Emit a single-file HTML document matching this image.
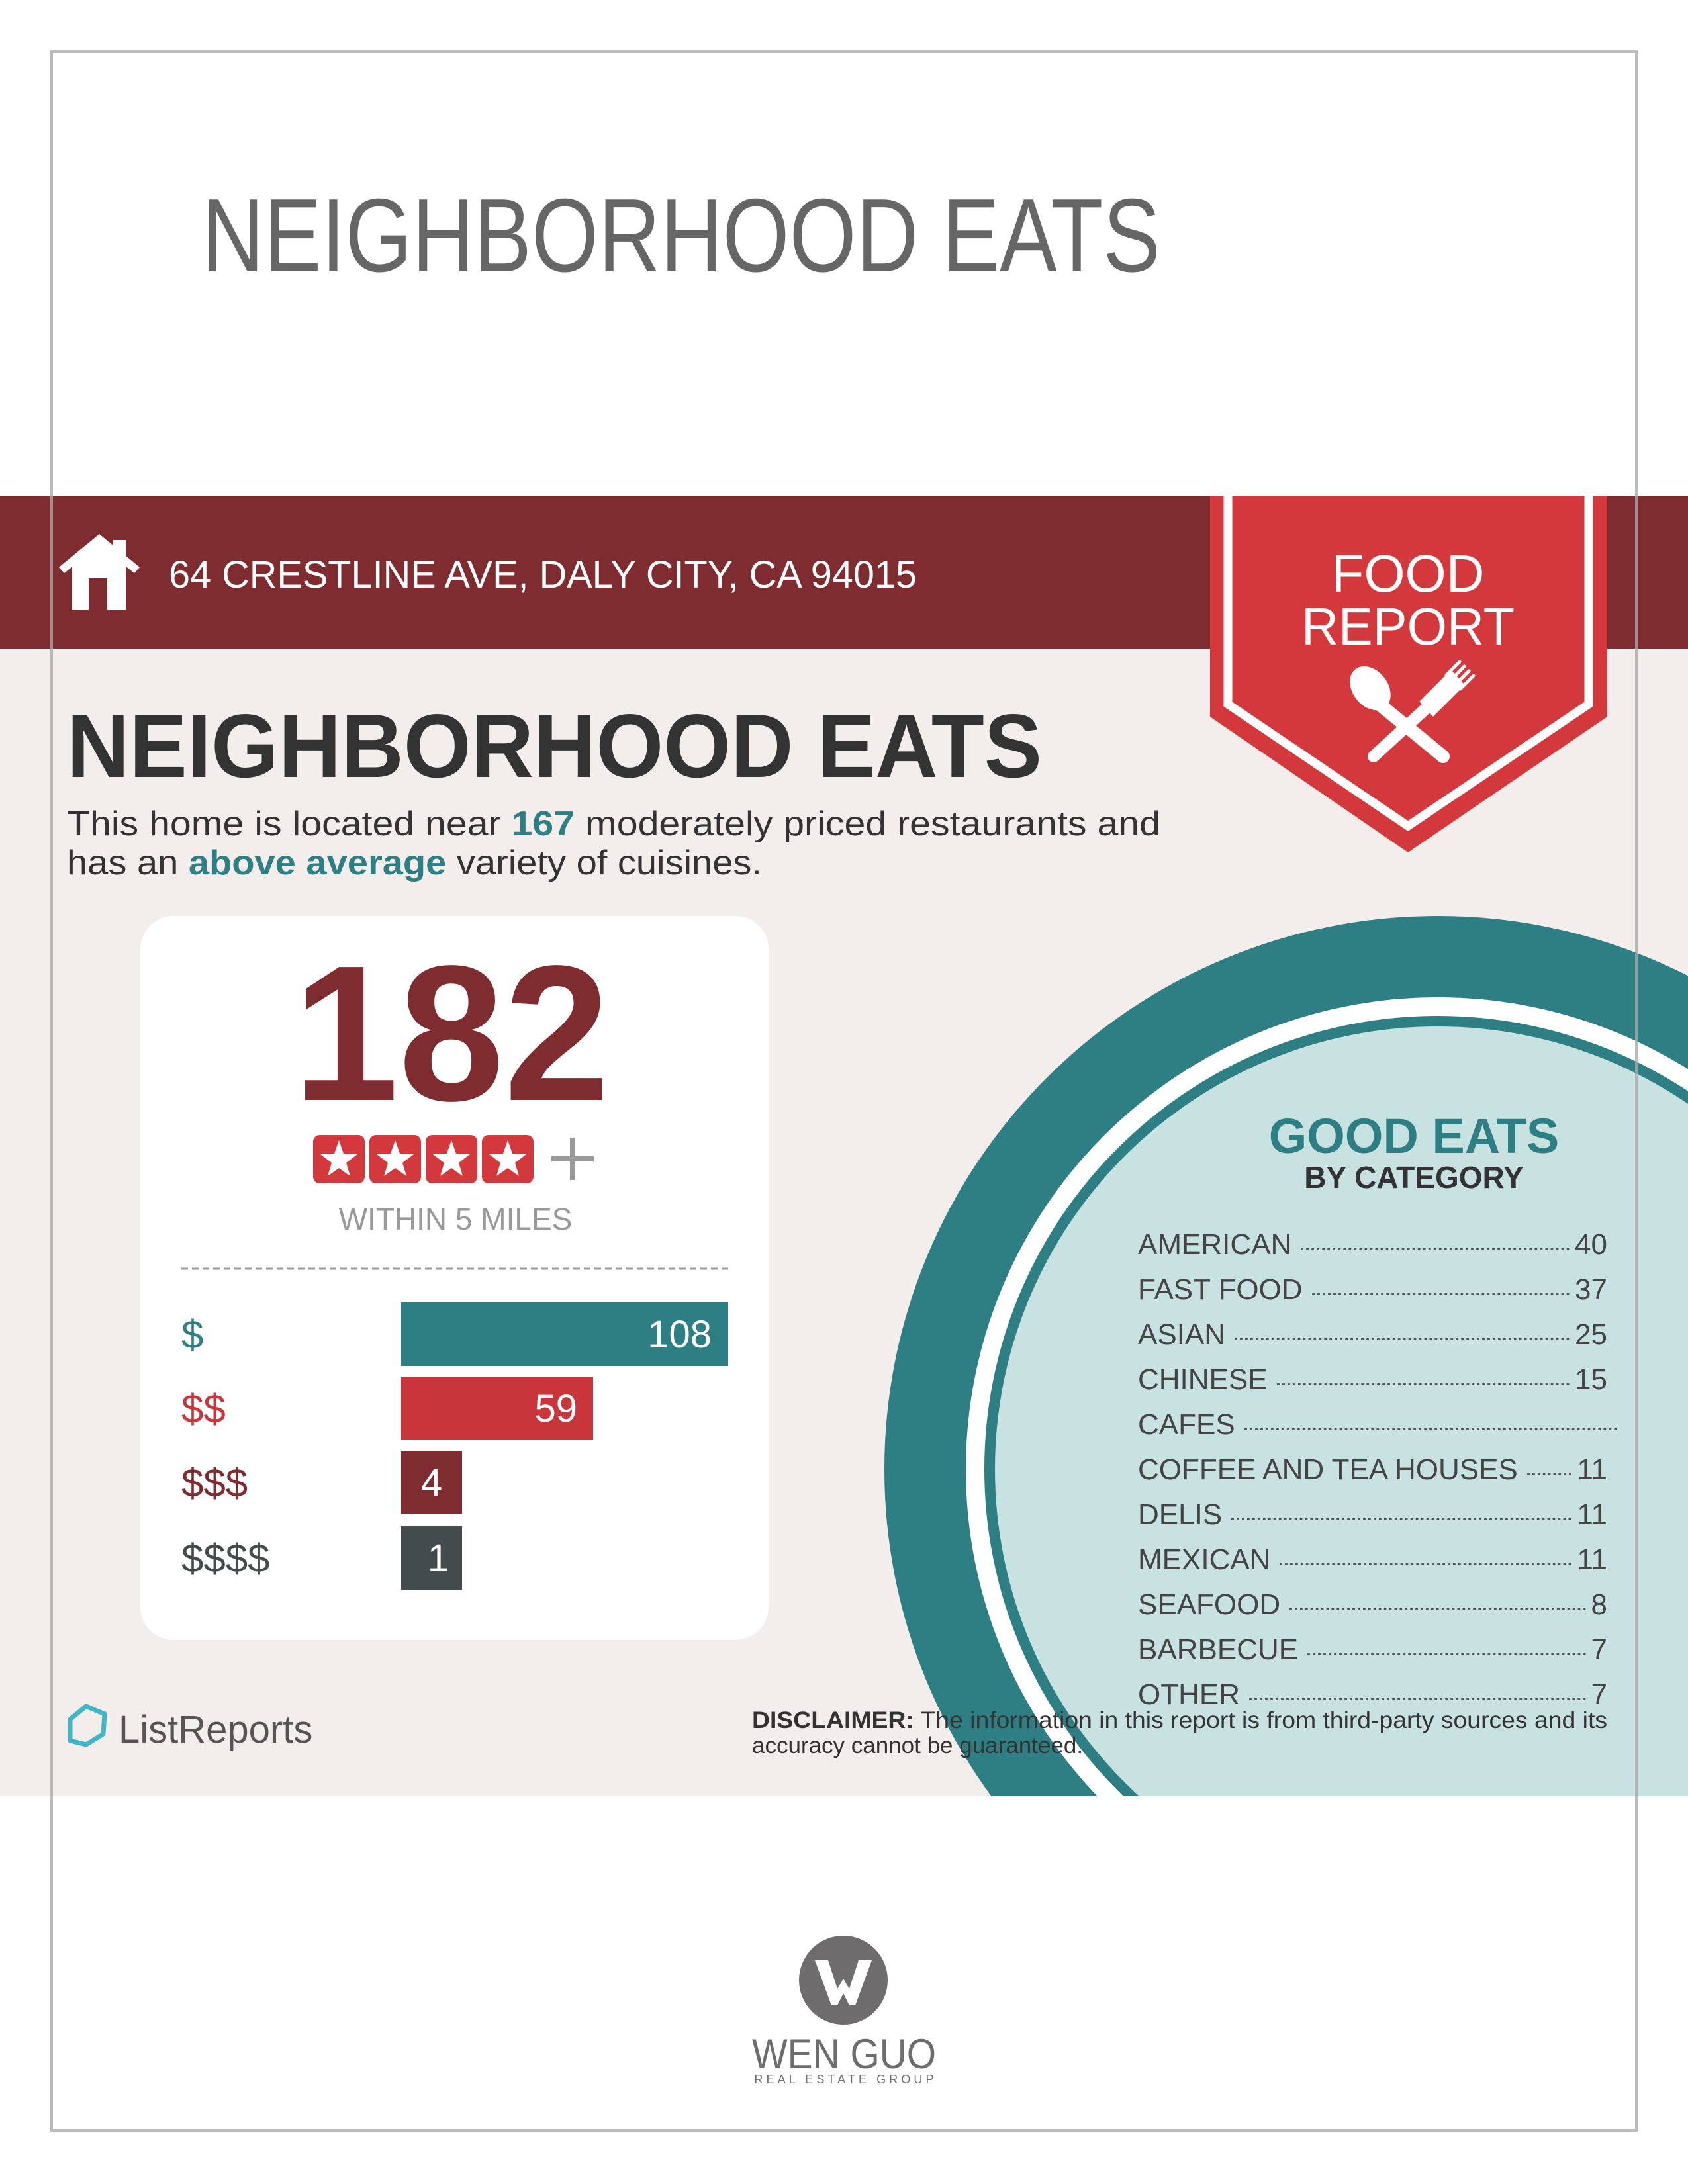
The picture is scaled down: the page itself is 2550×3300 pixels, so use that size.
<!DOCTYPE html>
<html><head><meta charset="utf-8"><style>
html,body{margin:0;padding:0;background:#fff}
body{width:2550px;height:3300px;position:relative;overflow:hidden;font-family:"Liberation Sans",sans-serif}
.row{position:absolute;left:1719px;display:flex;align-items:baseline;font-size:44px;color:#444;height:68px}
.row .l{white-space:nowrap}
.row .d{flex:1;border-bottom:4px dotted #555;margin:0 8px 0 14px;transform:translateY(-6px)}
.row .n{white-space:nowrap}
</style></head><body>
<svg width="2550" height="3300" style="position:absolute;left:0;top:0">
<defs><clipPath id="bg"><rect x="0" y="980" width="2550" height="1734"/></clipPath></defs>
<rect x="0" y="749" width="2550" height="231" fill="#7f2c31"/>
<rect x="0" y="980" width="2550" height="1734" fill="#f3eeec"/>
<g clip-path="url(#bg)">
<circle cx="2172" cy="2220" r="836" fill="#2e7f84"/>
<circle cx="2172" cy="2220" r="713" fill="#fff"/>
<circle cx="2172" cy="2220" r="685" fill="#2e7f84"/>
<circle cx="2172" cy="2220" r="669" fill="#c8e1e1"/>
</g>
<rect x="78" y="78" width="2394" height="3141" fill="none" stroke="#aaa" stroke-width="4" opacity="0.8"/>
<polygon points="1828,749 2428,749 2428,1083 2127,1288 1828,1083" fill="#d3383c"/>
<polyline points="1855,749 1855,1064 2127,1248 2400,1064 2400,749" fill="none" stroke="#fff" stroke-width="13"/>
<g fill="#fff" stroke="#fff" stroke-linecap="round">
<ellipse cx="2070" cy="1040" rx="26" ry="36" transform="rotate(-38 2070 1040)"/>
<line x1="2085" y1="1065" x2="2180" y2="1143" stroke-width="20"/>
<line x1="2075" y1="1143" x2="2160" y2="1065" stroke-width="18"/>
<polygon points="2147,1060 2165,1080 2210,1035 2192,1015" stroke-width="4"/>
<line x1="2185" y1="1020" x2="2205" y2="1000" stroke-width="5"/>
<line x1="2192" y1="1027" x2="2212" y2="1007" stroke-width="5"/>
<line x1="2199" y1="1034" x2="2219" y2="1014" stroke-width="5"/>
<line x1="2206" y1="1041" x2="2226" y2="1021" stroke-width="5"/>
</g>
<g fill="#fff">
<polygon points="150,807 211,857 203,866 150,824 97,866 89,857"/>
<rect x="171" y="816" width="19" height="30"/>
<polygon points="109,850 150,818 190,850 190,921 162,921 162,874 134,874 134,921 109,921"/>
</g>
<rect x="212" y="1384" width="949" height="1094" rx="50" fill="#fff"/>
<line x1="274" y1="1917" x2="1100" y2="1917" stroke="#999" stroke-width="3" stroke-dasharray="10,6"/>
<rect x="606" y="1968" width="494" height="96" fill="#2e7f84"/>
<rect x="606" y="2080" width="290" height="96" fill="#c8363b"/>
<rect x="606" y="2192" width="92" height="96" fill="#7f2c31"/>
<rect x="606" y="2306" width="92" height="96" fill="#434b4d"/>
<g>
<rect x="473" y="1715" width="78" height="73" rx="10" fill="#d3383c"/>
<rect x="558" y="1715" width="78" height="73" rx="10" fill="#d3383c"/>
<rect x="643" y="1715" width="78" height="73" rx="10" fill="#d3383c"/>
<rect x="728" y="1715" width="78" height="73" rx="10" fill="#d3383c"/>
<g fill="#fff">
<polygon transform="translate(512,1753)" points="0,-30 7,-10 28,-9 11,4 17,24 0,12 -17,24 -11,4 -28,-9 -7,-10"/>
<polygon transform="translate(597,1753)" points="0,-30 7,-10 28,-9 11,4 17,24 0,12 -17,24 -11,4 -28,-9 -7,-10"/>
<polygon transform="translate(682,1753)" points="0,-30 7,-10 28,-9 11,4 17,24 0,12 -17,24 -11,4 -28,-9 -7,-10"/>
<polygon transform="translate(767,1753)" points="0,-30 7,-10 28,-9 11,4 17,24 0,12 -17,24 -11,4 -28,-9 -7,-10"/>
</g>
<rect x="833" y="1747" width="64" height="8" fill="#999"/>
<rect x="861" y="1719" width="8" height="64" fill="#999"/>
</g>
<path d="M106,2598 L130,2578 L158,2590 L156,2620 L130,2636 L106,2630 Z" fill="none" stroke="#3fb6c8" stroke-width="7" stroke-linejoin="round"/>
<circle cx="1274" cy="2992" r="67" fill="#6e6c6d"/>
<polygon points="1231,2962 1251,2962 1265,3005 1274,2990 1283,3005 1297,2962 1317,2962 1292,3030 1283,3030 1274,3012 1265,3030 1256,3030" fill="#fff"/>
<text x="305" y="410" font-size="158" fill="#666" textLength="1448" lengthAdjust="spacingAndGlyphs">NEIGHBORHOOD EATS</text>
<text x="255" y="888" font-size="58" fill="#fff" textLength="1130" lengthAdjust="spacingAndGlyphs">64 CRESTLINE AVE, DALY CITY, CA 94015</text>
<text x="2127" y="894" font-size="80" fill="#fff" text-anchor="middle">FOOD</text>
<text x="2127" y="974" font-size="80" fill="#fff" text-anchor="middle" textLength="322" lengthAdjust="spacingAndGlyphs">REPORT</text>
<text x="101" y="1174" font-size="136" font-weight="bold" fill="#333" textLength="1473" lengthAdjust="spacingAndGlyphs">NEIGHBORHOOD EATS</text>
<text x="101" y="1262" font-size="52" fill="#333" textLength="1652" lengthAdjust="spacingAndGlyphs">This home is located near <tspan fill="#2e7f84" font-weight="bold">167</tspan> moderately priced restaurants and</text>
<text x="101" y="1321" font-size="52" fill="#333" textLength="1050" lengthAdjust="spacingAndGlyphs">has an <tspan fill="#2e7f84" font-weight="bold">above average</tspan> variety of cuisines.</text>
<text x="682" y="1662" font-size="292" font-weight="bold" fill="#7f2c31" text-anchor="middle" textLength="478" lengthAdjust="spacingAndGlyphs">182</text>
<text x="688" y="1858" font-size="46" fill="#999" text-anchor="middle">WITHIN 5 MILES</text>
<text x="274" y="2037" font-size="60" fill="#2e7f84">$</text>
<text x="274" y="2149" font-size="60" fill="#c8363b">$$</text>
<text x="274" y="2261" font-size="60" fill="#7f2c31">$$$</text>
<text x="274" y="2375" font-size="60" fill="#434b4d">$$$$</text>
<text x="1075" y="2036" font-size="58" fill="#fff" text-anchor="end">108</text>
<text x="872" y="2148" font-size="58" fill="#fff" text-anchor="end">59</text>
<text x="652" y="2260" font-size="58" fill="#fff" text-anchor="middle">4</text>
<text x="662" y="2374" font-size="58" fill="#fff" text-anchor="middle">1</text>
<text x="179" y="2633" font-size="58" fill="#555">ListReports</text>
<text x="2136" y="1742" font-size="74" font-weight="bold" fill="#2e7f84" text-anchor="middle">GOOD EATS</text>
<text x="2136" y="1795" font-size="46" font-weight="bold" fill="#333" text-anchor="middle">BY CATEGORY</text>
<text x="1136" y="2611" font-size="35" fill="#333" textLength="1292" lengthAdjust="spacingAndGlyphs"><tspan font-weight="bold">DISCLAIMER:</tspan> The information in this report is from third-party sources and its</text>
<text x="1136" y="2649" font-size="35" fill="#333">accuracy cannot be guaranteed.</text>
<text x="1275" y="3125" font-size="63" fill="#6e6c6d" text-anchor="middle" textLength="278" lengthAdjust="spacingAndGlyphs">WEN GUO</text>
<text x="1275" y="3148" font-size="18" fill="#6e6c6d" text-anchor="middle" textLength="271" lengthAdjust="spacing">REAL ESTATE GROUP</text>
</svg>
<div class="row" style="top:1856px;width:709px"><span class="l">AMERICAN</span><span class="d"></span><span class="n">40</span></div>
<div class="row" style="top:1924px;width:709px"><span class="l">FAST FOOD</span><span class="d"></span><span class="n">37</span></div>
<div class="row" style="top:1992px;width:709px"><span class="l">ASIAN</span><span class="d"></span><span class="n">25</span></div>
<div class="row" style="top:2060px;width:709px"><span class="l">CHINESE</span><span class="d"></span><span class="n">15</span></div>
<div class="row" style="top:2128px;width:724px"><span class="l">CAFES</span><span class="d" style="margin-right:0"></span></div>
<div class="row" style="top:2196px;width:709px"><span class="l">COFFEE AND TEA HOUSES</span><span class="d"></span><span class="n">11</span></div>
<div class="row" style="top:2264px;width:709px"><span class="l">DELIS</span><span class="d"></span><span class="n">11</span></div>
<div class="row" style="top:2332px;width:709px"><span class="l">MEXICAN</span><span class="d"></span><span class="n">11</span></div>
<div class="row" style="top:2400px;width:709px"><span class="l">SEAFOOD</span><span class="d"></span><span class="n">8</span></div>
<div class="row" style="top:2468px;width:709px"><span class="l">BARBECUE</span><span class="d"></span><span class="n">7</span></div>
<div class="row" style="top:2536px;width:709px"><span class="l">OTHER</span><span class="d"></span><span class="n">7</span></div>
</body></html>
